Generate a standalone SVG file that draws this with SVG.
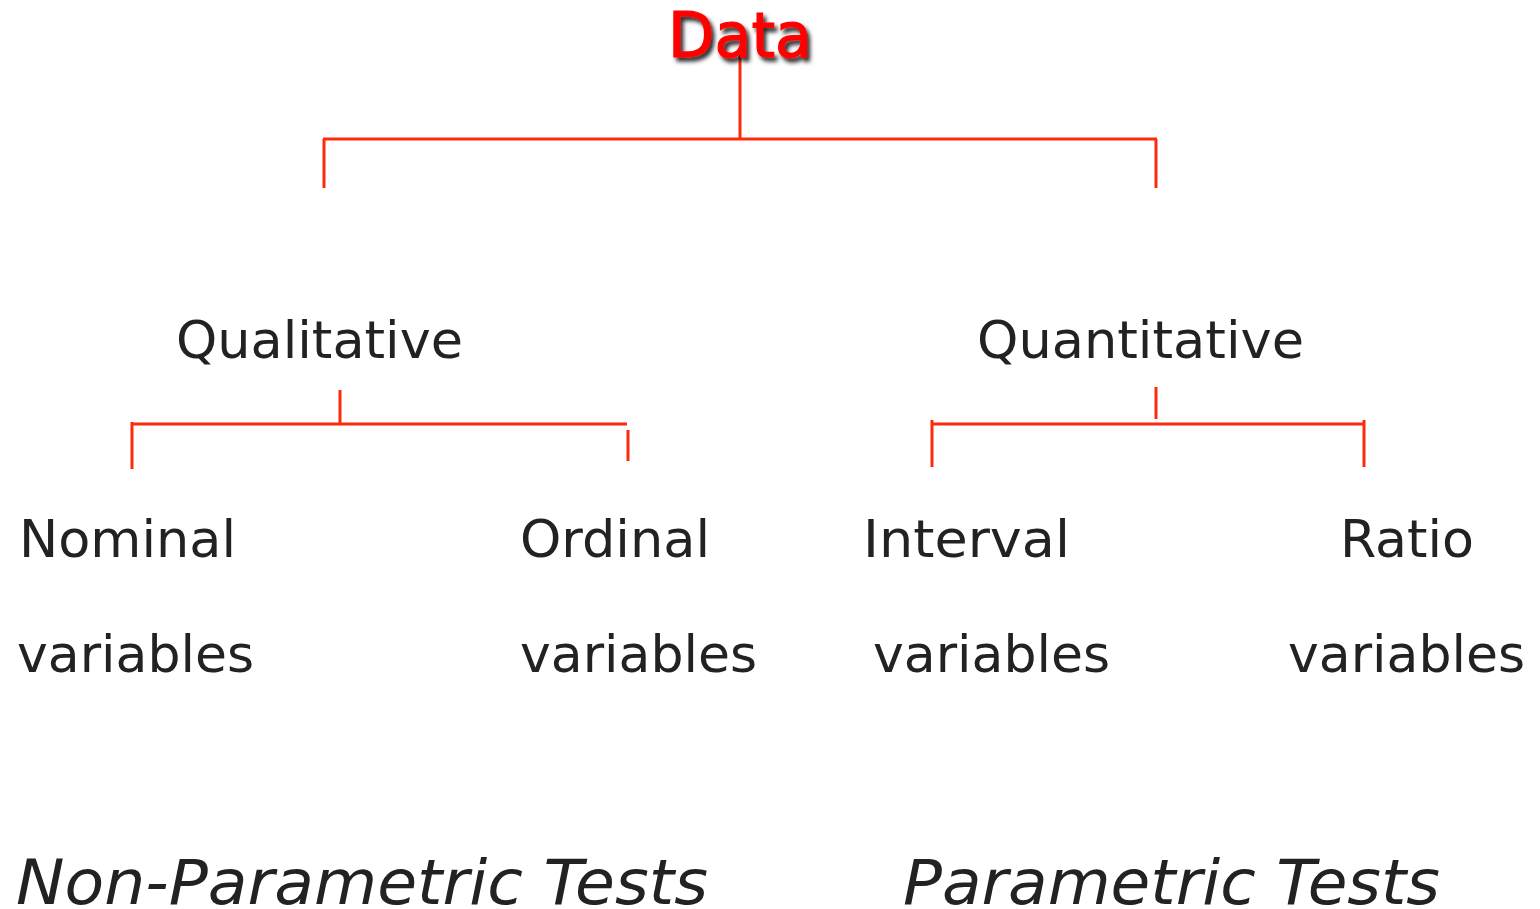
<svg xmlns="http://www.w3.org/2000/svg" width="1540" height="909" viewBox="0 0 1540 909">
<defs>
<style>
.t{font-family:"DejaVu Sans",Verdana,sans-serif;font-size:52px;fill:#222}
.i{font-family:"DejaVu Sans",Verdana,sans-serif;font-size:62px;font-style:italic;fill:#222}
.c line{stroke:#ff2a0a;stroke-width:3}
</style>
<filter id="sh" x="-10%" y="-20%" width="130%" height="150%">
<feDropShadow dx="3" dy="4" stdDeviation="2" flood-color="#000" flood-opacity="0.85"/>
</filter>
</defs>
<rect width="1540" height="909" fill="#fff"/>
<g id="connectors" class="c">
<line x1="740" y1="52" x2="740" y2="139"/>
<line x1="323" y1="139" x2="1157" y2="139"/>
<line x1="324" y1="139" x2="324" y2="188"/>
<line x1="1156" y1="139" x2="1156" y2="188"/>
<line x1="340" y1="390" x2="340" y2="423"/>
<line x1="131" y1="424" x2="627" y2="424"/>
<line x1="132" y1="422" x2="132" y2="469"/>
<line x1="628" y1="430" x2="628" y2="461"/>
<line x1="1156" y1="387" x2="1156" y2="419"/>
<line x1="932" y1="424" x2="1364" y2="424"/>
<line x1="932" y1="420" x2="932" y2="467"/>
<line x1="1364" y1="420" x2="1364" y2="467"/>
</g>
<g id="data"><text x="668" y="57" font-family="DejaVu Sans,Verdana,sans-serif" font-size="62" fill="#ff0000" stroke="#ff0000" stroke-width="1.2" textLength="144" lengthAdjust="spacingAndGlyphs" filter="url(#sh)">Data</text></g>
<g id="qualitative"><text class="t" x="176" y="358" textLength="287" lengthAdjust="spacingAndGlyphs">Qualitative</text></g>
<g id="quantitative"><text class="t" x="977" y="358" textLength="327" lengthAdjust="spacingAndGlyphs">Quantitative</text></g>
<g id="nominal"><text class="t" x="19" y="557" textLength="217" lengthAdjust="spacingAndGlyphs">Nominal</text><text class="t" x="17" y="672" textLength="237" lengthAdjust="spacingAndGlyphs">variables</text></g>
<g id="ordinal"><text class="t" x="520" y="557" textLength="190" lengthAdjust="spacingAndGlyphs">Ordinal</text><text class="t" x="520" y="672" textLength="237" lengthAdjust="spacingAndGlyphs">variables</text></g>
<g id="interval"><text class="t" x="863" y="557" textLength="207" lengthAdjust="spacingAndGlyphs">Interval</text><text class="t" x="873" y="672" textLength="237" lengthAdjust="spacingAndGlyphs">variables</text></g>
<g id="ratio"><text class="t" x="1340" y="557" textLength="134" lengthAdjust="spacingAndGlyphs">Ratio</text><text class="t" x="1288" y="672" textLength="237" lengthAdjust="spacingAndGlyphs">variables</text></g>
<g id="nonparametric"><text class="i" x="16" y="904" textLength="692" lengthAdjust="spacingAndGlyphs">Non-Parametric Tests</text></g>
<g id="parametric"><text class="i" x="903" y="904" textLength="537" lengthAdjust="spacingAndGlyphs">Parametric Tests</text></g>
</svg>
